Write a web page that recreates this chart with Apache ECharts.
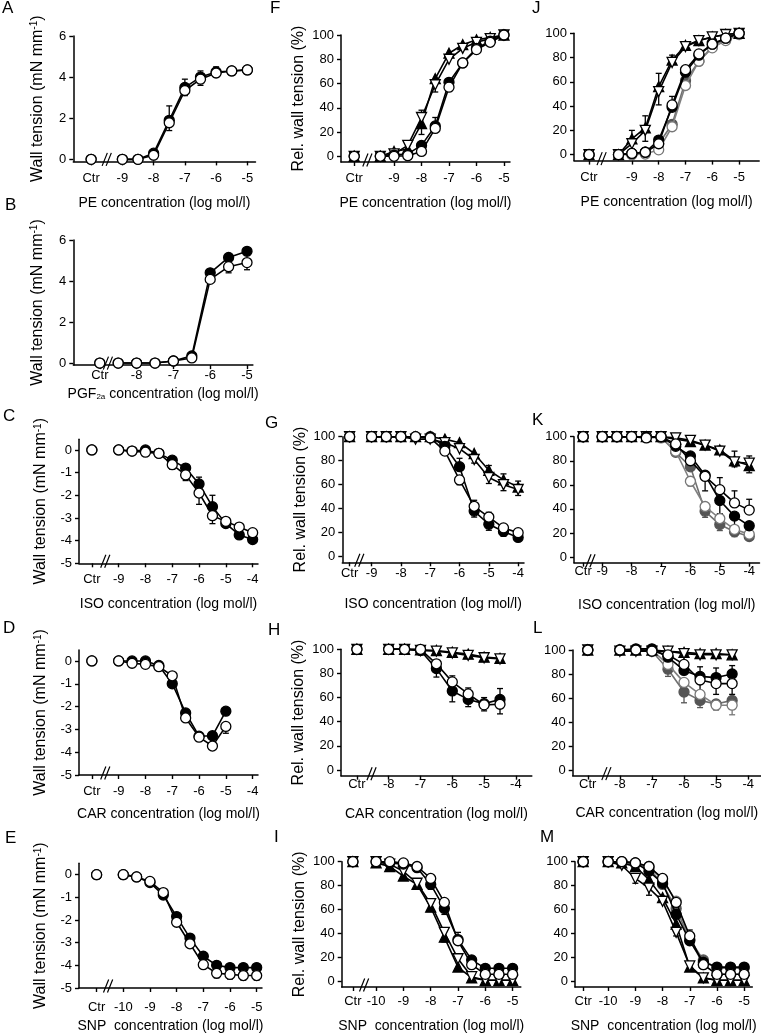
<!DOCTYPE html>
<html><head><meta charset="utf-8">
<script src="https://cdn.jsdelivr.net/npm/echarts@6/dist/echarts.min.js"></script>
<style>html,body{margin:0;padding:0;background:#fff}#c{width:761px;height:1034px}</style>
</head><body><div id="c"></div>
<script>
// ================= DATA =================
// Panel A (PE, wall tension mN/mm)
const A_x = [-9,-8.5,-8,-7.5,-7,-6.5,-6,-5.5,-5];
const A_filled = [0,0,0.3,1.9,3.5,4.0,4.25,4.3,4.35];
const A_open   = [0,0,0.2,1.78,3.35,3.9,4.2,4.3,4.35];
const A_filledErr = [0,0,0,0.7,0.4,0.3,0.25,0.2,0.2];
const A_openErr   = [0,0,0,-0.38,-0.25,-0.3,-0.2,-0.2,-0.2];
const A_ctr = [0,0];
const A_xTicks = [-9,-8,-7,-6,-5];
// Panel B (PGF2a)
const B_x = [-8.5,-8,-7.5,-7,-6.5,-6,-5.5,-5];
const B_filled = [0,0,0,0.1,0.35,4.4,5.15,5.45];
const B_open   = [0,0,0,0.1,0.25,4.08,4.7,4.9];
const B_filledErr = [0,0,0,0,0,0.1,0.1,0.1];
const B_openErr   = [0,0,0,0,0,-0.1,-0.3,-0.35];
const B_ctr = [0,0];
const B_xTicks = [-8,-7,-6,-5];
// Panel C (ISO)
const C_x = [-9,-8.5,-8,-7.5,-7,-6.5,-6,-5.5,-5,-4.5,-4];
const C_filled = [0,-0.05,0,-0.15,-0.45,-0.8,-1.5,-2.5,-3.25,-3.75,-3.95];
const C_open   = [0,-0.05,-0.1,-0.15,-0.65,-1.1,-1.9,-2.9,-3.15,-3.4,-3.65];
const C_filledErr = [0,0,0,0,0.1,0.1,0.3,0.5,0,0,0];
const C_openErr   = [0,0,0,0,-0.2,-0.25,-0.5,-0.35,-0.2,0,0];
const C_ctr = [0,0];
const C_xTicks = [-9,-8,-7,-6,-5,-4];
// Panel D (CAR)
const D_x = [-9,-8.5,-8,-7.5,-7,-6.5,-6,-5.5,-5];
const D_filled = [0,0,0,-0.2,-1.0,-2.28,-3.3,-3.28,-2.2];
const D_open   = [0,-0.1,-0.15,-0.25,-0.65,-2.5,-3.34,-3.73,-2.87];
const D_filledErr = [0,0,0,0,0,0,0,0,0];
const D_openErr   = [0,0,0,0,0,0,0,0,-0.3];
const D_ctr = [0,0];
const D_xTicks = [-9,-8,-7,-6,-5,-4];
// Panel E (SNP)
const E_x = [-10,-9.5,-9,-8.5,-8,-7.5,-7,-6.5,-6,-5.5,-5];
const E_filled = [0,-0.1,-0.35,-0.9,-1.85,-2.8,-3.6,-4.0,-4.1,-4.1,-4.1];
const E_open   = [0,-0.1,-0.3,-0.79,-2.1,-3.05,-3.97,-4.35,-4.4,-4.45,-4.45];
const E_filledErr = [0,0,0,0,0,0,0,0,0,0,0];
const E_openErr   = [0,0,0,0,0,0,-0.15,-0.2,-0.2,-0.2,-0.2];
const E_ctr = [0,0];
const E_xTicks = [-10,-9,-8,-7,-6,-5];
// Panel F (PE, relative)
const F_x = [-9.5,-9,-8.5,-8,-7.5,-7,-6.5,-6,-5.5,-5];
const F_triF  = [0,4,6,27,64,85,92,96,98,100];
const F_triO  = [0,2,9,32,59,80,89,94,97,100];
const F_circF = [0,1,2,9,25,61,77,89,95,100];
const F_circO = [0,0,0.5,4,23,57,77,88,94,100];
const F_triFErr  = [0,0,0,-9,0,0,0,0,0,0];
const F_triOErr  = [0,0,0,6,-6,0,0,0,0,0];
const F_circFErr = [0,0,0,0,7,0,0,0,0,0];
const F_circOErr = [0,0,0,0,0,0,0,0,0,0];
const F_ctr = [0,0,0,0];
const F_xTicks = [-9,-8,-7,-6,-5];
// Panel G (ISO, relative)
const G_x = [-9,-8.5,-8,-7.5,-7,-6.5,-6,-5.5,-5,-4.5,-4];
const G_triF  = [100,100,100,100,100,98,95,86,72,64,58];
const G_triO  = [100,100,100,98,98,95,90,81,66,60,56];
const G_circF = [100,100,100,100,100,92,75,38,27,21,16];
const G_circO = [100,100,100,100,99,88,64,42,33,24,20];
const G_triFErr  = [0,0,0,0,0,0,0,0,4,5,5];
const G_triOErr  = [0,0,0,0,0,0,0,-3,-5,-5,-5];
const G_circFErr = [0,0,0,0,0,0,7,-5,-5,-4,-3];
const G_circOErr = [0,0,0,0,0,-3,-4,5,4,3,0];
const G_ctr = [100,100,100,100];
const G_xTicks = [-9,-8,-7,-6,-5,-4];
// Panel H (CAR, relative)
const H_x = [-8,-7.5,-7,-6.5,-6,-5.5,-5,-4.5];
const H_triF  = [100,100,99.5,99,97.5,96,93.5,92.5];
const H_triO  = [100,100,99,98.5,97,95,93,92];
const H_circF = [100,100,99,84,65.5,58.5,55,58.5];
const H_circO = [100,100,100,88,73,63,54,54.5];
const H_triFErr  = [0,0,0,0,0,0,0,0];
const H_triOErr  = [0,0,0,0,0,0,0,0];
const H_circFErr = [0,0,0,-7,-9,-6,-6,9];
const H_circOErr = [0,0,0,3,5,5,6,-8];
const H_ctr = [100,100,100,100];
const H_xTicks = [-8,-7,-6,-5,-4];
// Panel I (SNP, relative)
const I_x = [-10,-9.5,-9,-8.5,-8,-7.5,-7,-6.5,-6,-5.5,-5];
const I_triF  = [99,96,88,81,62,37,12,3,1,1,1];
const I_triO  = [100,98,92,82,65,41,19,4,1,1,1];
const I_circF = [100,99,98,95,81,61,35,18,11,11,11];
const I_circO = [100,100,99,96,86,66,34,14,6,6,6];
const I_triFErr  = [0,0,0,0,0,-4,0,0,0,0,0];
const I_triOErr  = [0,0,0,0,0,0,0,0,0,0,0];
const I_circFErr = [0,0,0,0,-4,-5,0,3,0,0,3];
const I_circOErr = [0,0,0,0,0,0,7,0,0,0,0];
const I_ctr = [100,100,100,100];
const I_xTicks = [-10,-9,-8,-7,-6,-5];
// Panel J (PE, relative, with gray reference curves)
const J_x = [-9.5,-9,-8.5,-8,-7.5,-7,-6.5,-6,-5.5,-5];
const J_grayF = [0,1,2,9,25,61,77,89,95,100];
const J_grayO = [0,0,0.5,4,23,57,77,88,94,99];
const J_triF  = [0,13,22,56,78,90,94,97,99,100];
const J_triO  = [0,9,20,52,76,89,94,97,99,100];
const J_circF = [0,1,2,12,39,68,82,91,96,100];
const J_circO = [0,1,2,9,41,70,83,91,96,100];
const J_grayFErr = [0,0,0,0,0,0,0,0,0,0];
const J_grayOErr = [0,0,0,0,0,0,0,0,0,0];
const J_triFErr  = [0,7,10,11,4,0,0,0,0,0];
const J_triOErr  = [0,0,-9,-11,0,0,0,0,0,0];
const J_circFErr = [0,0,0,0,0,0,0,0,0,0];
const J_circOErr = [0,0,0,0,7,0,0,0,0,0];
const J_ctr = [0,0,0,0,0,0];
const J_xTicks = [-9,-8,-7,-6,-5];
// Panel K (ISO, relative, with gray reference curves)
const K_x = [-9,-8.5,-8,-7.5,-7,-6.5,-6,-5.5,-5,-4.5,-4];
const K_grayF = [100,100,100,100,100,87,75,38,27,21,17];
const K_grayO = [100,100,100,100,99,88,63,42,32,23,19];
const K_triF  = [100,100,100,100,100,98,96,93,89,80,76];
const K_triO  = [100,100,100,100,100,99,97,93,88,79,78];
const K_circF = [100,100,100,100,100,92,84,68,47,34,26];
const K_circO = [100,100,100,99,100,94,80,67,56,45,39];
const K_grayFErr = [0,0,0,0,0,0,0,-5,-5,-4,-3];
const K_grayOErr = [0,0,0,0,0,0,-4,0,0,0,0];
const K_triFErr  = [0,0,0,0,0,0,0,0,3,8,-6];
const K_triOErr  = [0,0,0,0,0,0,0,0,0,-4,6];
const K_circFErr = [0,0,0,0,0,0,0,-13,-11,-9,0];
const K_circOErr = [0,0,0,0,0,0,0,0,10,10,9];
const K_ctr = [100,100,100,100,100,100];
const K_xTicks = [-9,-8,-7,-6,-5,-4];
// Panel L (CAR, relative, with gray reference curves)
const L_x = [-8,-7.5,-7,-6.5,-6,-5.5,-5,-4.5];
const L_grayF = [100,100,99,84,65,58,55,58];
const L_grayO = [100,100,100,88,73,63,54,54];
const L_triF  = [100,100,100,99,98,97,97,96];
const L_triO  = [99,99,99,99,97,96,96,96];
const L_circF = [100,101,101,94,83,78,77,80];
const L_circO = [100,100,99,96,88,75,72,72];
const L_grayFErr = [0,0,0,-6,-9,-6,-5,0];
const L_grayOErr = [0,0,0,0,0,0,0,-8];
const L_triFErr  = [0,0,0,0,0,0,0,0];
const L_triOErr  = [0,0,0,0,0,0,0,0];
const L_circFErr = [0,0,0,0,0,8,8,7];
const L_circOErr = [0,0,0,0,0,-9,-9,-9];
const L_ctr = [100,100,100,100,100,100];
const L_xTicks = [-8,-7,-6,-5,-4];
// Panel M (SNP, relative, with gray reference curves)
const M_x = [-10,-9.5,-9,-8.5,-8,-7.5,-7,-6.5,-6,-5.5,-5];
const M_grayF = [100,99,98,95,81,61,35,18,11,11,11];
const M_grayO = [100,100,99,96,85,67,35,14,6,6,6];
const M_triF  = [100,99,96,85,70,48,12,3,1,1,1];
const M_triO  = [100,97,86,78,67,41,13,3,1,1,1];
const M_circF = [100,100,99,92,82,56,34,16,12,12,12];
const M_circO = [100,100,99,96,86,66,38,14,6,6,6];
const M_grayFErr = [0,0,0,0,0,0,0,0,0,0,0];
const M_grayOErr = [0,0,0,0,0,0,0,0,0,0,0];
const M_triFErr  = [0,0,0,0,0,0,0,0,0,0,0];
const M_triOErr  = [0,0,-4,-6,0,-3,0,0,0,0,0];
const M_circFErr = [0,0,0,0,0,0,0,0,0,0,0];
const M_circOErr = [0,0,0,0,0,0,5,0,0,0,0];
const M_ctr = [100,100,100,100,100,100];
const M_xTicks = [-10,-9,-8,-7,-6,-5];

const yTicksAbs = [0,2,4,6];
const yTicksNeg = [-5,-4,-3,-2,-1,0];
const yTicksRel = [0,20,40,60,80,100];

// ================= STYLE / LAYOUT =================
const FONT = '"Liberation Sans", Arial, Helvetica, sans-serif';
const SYM = 10;
const STY = {
  circF: {sym:'circle', size:SYM, rot:0, fill:'#000', stroke:'#000', line:'#000'},
  circO: {sym:'circle', size:SYM, rot:0, fill:'#fff', stroke:'#000', line:'#000'},
  triF:  {sym:'triangle', size:SYM, rot:0, fill:'#000', stroke:'#000', line:'#000'},
  triO:  {sym:'triangle', size:SYM, rot:180, fill:'#fff', stroke:'#000', line:'#000'},
  grayF: {sym:'circle', size:SYM, rot:0, fill:'#555', stroke:'#555', line:'#707070'},
  grayO: {sym:'circle', size:SYM, rot:0, fill:'#fff', stroke:'#777', line:'#808080'}
};
const WALL = 'Wall tension (mN mm{sup|-1})';
const REL = 'Rel. wall tension (%)';

function two(x, a, ea, ca, b, eb, cb) {
  return [{x:x, y:a, e:ea, c:ca, s:'circF'}, {x:x, y:b, e:eb, c:cb, s:'circO'}];
}
function four(x, P, ctr) {
  return [
    {x:x, y:P.triF, e:P.triFErr, c:ctr[0], s:'triF'},
    {x:x, y:P.triO, e:P.triOErr, c:ctr[1], s:'triO'},
    {x:x, y:P.circF, e:P.circFErr, c:ctr[2], s:'circF'},
    {x:x, y:P.circO, e:P.circOErr, c:ctr[3], s:'circO'}
  ];
}
function six(x, P, ctr) {
  return [
    {x:x, y:P.grayF, e:P.grayFErr, c:ctr[4], s:'grayF'},
    {x:x, y:P.grayO, e:P.grayOErr, c:ctr[5], s:'grayO'}
  ].concat(four(x, P, ctr));
}

const panels = [
  {L:'A', lp:[2,0], box:[73.3,36,182.2,125.4], xr:[-10.57,-4.74], yr:[-0.1,6], ctrX:-10, brk:-9.5,
   xt:A_xTicks, yt:yTicksAbs, xn:'PE concentration (log mol/l)', xng:35, lm:11, yn:WALL, yng:28,
   ser: two(A_x, A_filled, A_filledErr, A_ctr[0], A_open, A_openErr, A_ctr[1])},
  {L:'B', lp:[5,197], box:[73.3,240,179.6,125.1], xr:[-9.72,-4.84], yr:[-0.1,6], ctrX:-9, brk:-8.78,
   xt:B_xTicks, yt:yTicksAbs, xn:'PGF{sub|2a} concentration (log mol/l)', xng:22, lm:4, yn:WALL, yng:28,
   ser: two(B_x, B_filled, B_filledErr, B_ctr[0], B_open, B_openErr, B_ctr[1])},
  {L:'C', lp:[3,408], box:[79,439.3,179,124], xr:[-10.48,-3.8], yr:[-5,0.47], ctrX:-10, brk:-9.5,
   xt:C_xTicks, yt:yTicksNeg, xn:'ISO concentration (log mol/l)', xng:34, lm:10, yn:WALL, yng:30,
   ser: two(C_x, C_filled, C_filledErr, C_ctr[0], C_open, C_openErr, C_ctr[1])},
  {L:'D', lp:[3,620], box:[79,650,179,125], xr:[-10.48,-3.8], yr:[-5,0.48], ctrX:-10, brk:-9.5,
   xt:D_xTicks, yt:yTicksNeg, xn:'CAR concentration (log mol/l)', xng:32, lm:10, yn:WALL, yng:30,
   ser: two(D_x, D_filled, D_filledErr, D_ctr[0], D_open, D_openErr, D_ctr[1])},
  {L:'E', lp:[5,830], box:[79,863.3,183,125.4], xr:[-11.66,-4.8], yr:[-5,0.5], ctrX:-11, brk:-10.57,
   xt:E_xTicks, yt:yTicksNeg, xn:'SNP  concentration (log mol/l)', xng:31, lm:13, yn:WALL, yng:30,
   ser: two(E_x, E_filled, E_filledErr, E_ctr[0], E_open, E_openErr, E_ctr[1])},
  {L:'F', lp:[270,0], box:[341,35,169,127], xr:[-10.93,-4.78], yr:[-4.7,100], ctrX:-10.45, brk:-9.97,
   xt:F_xTicks, yt:yTicksRel, xn:'PE concentration (log mol/l)', xng:34, lm:10, yn:REL, yng:34,
   ser: four(F_x, {triF:F_triF,triFErr:F_triFErr,triO:F_triO,triOErr:F_triOErr,circF:F_circF,circFErr:F_circFErr,circO:F_circO,circOErr:F_circOErr}, F_ctr)},
  {L:'G', lp:[265,415], box:[342.3,436.7,181.7,125.6], xr:[-10,-3.8], yr:[-4.7,100], ctrX:-9.75, brk:-9.42,
   xt:G_xTicks, yt:yTicksRel, xn:'ISO concentration (log mol/l)', xng:35, lm:5, yn:REL, yng:34,
   ser: four(G_x, {triF:G_triF,triFErr:G_triFErr,triO:G_triO,triOErr:G_triOErr,circF:G_circF,circFErr:G_circFErr,circO:G_circO,circOErr:G_circOErr}, G_ctr)},
  {L:'H', lp:[268,622], box:[341,649.3,190.8,126.4], xr:[-9.5,-3.5], yr:[-4.7,100], ctrX:-9, brk:-8.54,
   xt:H_xTicks, yt:yTicksRel, xn:'CAR concentration (log mol/l)', xng:31, lm:2, yn:REL, yng:34,
   ser: four(H_x, {triF:H_triF,triFErr:H_triFErr,triO:H_triO,triOErr:H_triOErr,circF:H_circF,circFErr:H_circFErr,circO:H_circO,circOErr:H_circOErr}, H_ctr)},
  {L:'I', lp:[274,829], box:[341.7,861.7,179.1,126.6], xr:[-11.26,-4.7], yr:[-4.6,100], ctrX:-10.85, brk:-10.44,
   xt:I_xTicks, yt:yTicksRel, xn:'SNP  concentration (log mol/l)', xng:32, lm:8, yn:REL, yng:34,
   ser: four(I_x, {triF:I_triF,triFErr:I_triFErr,triO:I_triO,triOErr:I_triOErr,circF:I_circF,circFErr:I_circFErr,circO:I_circO,circOErr:I_circOErr}, I_ctr)},
  {L:'J', lp:[532,0], box:[574,33.3,185.2,127.3], xr:[-11.16,-4.25], yr:[-4.9,100], ctrX:-10.6, brk:-10.13,
   xt:J_xTicks, yt:yTicksRel, xn:'PE concentration (log mol/l)', xng:35, lm:10, yn:'', yng:34,
   ser: six(J_x, {grayF:J_grayF,grayFErr:J_grayFErr,grayO:J_grayO,grayOErr:J_grayOErr,triF:J_triF,triFErr:J_triFErr,triO:J_triO,triOErr:J_triOErr,circF:J_circF,circFErr:J_circFErr,circO:J_circO,circOErr:J_circOErr}, J_ctr)},
  {L:'K', lp:[532,412], box:[574,436.7,185.5,126], xr:[-9.96,-3.65], yr:[-4.7,100], ctrX:-9.65, brk:-9.4,
   xt:K_xTicks, yt:yTicksRel, xn:'ISO concentration (log mol/l)', xng:35, lm:2, yn:'', yng:34,
   ser: six(K_x, {grayF:K_grayF,grayFErr:K_grayFErr,grayO:K_grayO,grayOErr:K_grayOErr,triF:K_triF,triFErr:K_triFErr,triO:K_triO,triOErr:K_triOErr,circF:K_circF,circFErr:K_circFErr,circO:K_circO,circOErr:K_circOErr}, K_ctr)},
  {L:'L', lp:[533,620], box:[572.7,650,188.4,125.6], xr:[-9.47,-3.6], yr:[-4.7,100], ctrX:-9, brk:-8.42,
   xt:L_xTicks, yt:yTicksRel, xn:'CAR concentration (log mol/l)', xng:31, lm:2, yn:'', yng:34,
   ser: six(L_x, {grayF:L_grayF,grayFErr:L_grayFErr,grayO:L_grayO,grayOErr:L_grayOErr,triF:L_triF,triFErr:L_triFErr,triO:L_triO,triOErr:L_triOErr,circF:L_circF,circFErr:L_circFErr,circO:L_circO,circOErr:L_circOErr}, L_ctr)},
  {L:'M', lp:[540,829], box:[575,861.7,177.3,126.6], xr:[-11.22,-4.7], yr:[-4.6,100], ctrX:-10.92, brk:null,
   xt:M_xTicks, yt:yTicksRel, xn:'SNP  concentration (log mol/l)', xng:32, lm:8, yn:'', yng:34,
   ser: six(M_x, {grayF:M_grayF,grayFErr:M_grayFErr,grayO:M_grayO,grayOErr:M_grayOErr,triF:M_triF,triFErr:M_triFErr,triO:M_triO,triOErr:M_triOErr,circF:M_circF,circFErr:M_circFErr,circO:M_circO,circOErr:M_circOErr}, M_ctr)}
];

function errRenderer(color) {
  return function (params, api) {
    const x = api.value(0), y = api.value(1), e = api.value(2);
    const p0 = api.coord([x, y]);
    const p1 = api.coord([x, y + e]);
    const cap = 3;
    const st = {stroke: color, lineWidth: 1.3};
    return {type: 'group', children: [
      {type: 'line', shape: {x1: p0[0], y1: p0[1], x2: p1[0], y2: p1[1]}, style: st},
      {type: 'line', shape: {x1: p1[0] - cap, y1: p1[1], x2: p1[0] + cap, y2: p1[1]}, style: st}
    ]};
  };
}
function breakRenderer(params, api) {
  const p = api.coord([api.value(0), api.value(1)]);
  const w = 2.6, h = 6.5, g = 4;
  const st = {stroke: '#000', lineWidth: 1.2};
  return {type: 'group', children: [
    {type: 'line', shape: {x1: p[0] - g / 2 - w, y1: p[1] + h - 2, x2: p[0] - g / 2 + w, y2: p[1] - h - 2}, style: st},
    {type: 'line', shape: {x1: p[0] + g / 2 - w, y1: p[1] + h - 2, x2: p[0] + g / 2 + w, y2: p[1] - h - 2}, style: st}
  ]};
}

const option = {
  animation: false,
  backgroundColor: '#fff',
  textStyle: {fontFamily: FONT},
  title: [], grid: [], xAxis: [], yAxis: [], series: []
};

const axisCommon = {
  axisLine: {show: true, onZero: false, lineStyle: {color: '#000', width: 1.5}},
  axisTick: {show: true, length: 4, lineStyle: {color: '#000', width: 1.4}},
  splitLine: {show: false}
};

panels.forEach(function (p, i) {
  option.title.push({text: p.L, left: p.lp[0], top: p.lp[1], padding: 0,
    textStyle: {fontFamily: FONT, fontSize: 17, fontWeight: 'normal', color: '#000'}});
  option.grid.push({left: p.box[0], top: p.box[1], width: p.box[2], height: p.box[3], containLabel: false});
  const xVals = [p.ctrX].concat(p.xt);
  option.xAxis.push(Object.assign({}, axisCommon, {
    gridIndex: i, type: 'value', min: p.xr[0], max: p.xr[1],
    axisTick: Object.assign({}, axisCommon.axisTick, {customValues: xVals}),
    axisLabel: {customValues: xVals, margin: p.lm, color: '#000', fontFamily: FONT, fontSize: 13,
      formatter: (function (cx) { return function (v) { return Math.abs(v - cx) < 1e-6 ? 'Ctr' : String(v); }; })(p.ctrX)},
    name: p.xn, nameLocation: 'middle', nameGap: p.xng,
    nameTextStyle: {color: '#000', fontFamily: FONT, fontSize: 14,
      rich: {sub: {fontSize: 8, verticalAlign: 'bottom', fontFamily: FONT, color: '#000'}}}
  }));
  option.yAxis.push(Object.assign({}, axisCommon, {
    gridIndex: i, type: 'value', min: p.yr[0], max: p.yr[1],
    axisTick: Object.assign({}, axisCommon.axisTick, {customValues: p.yt}),
    axisLabel: {customValues: p.yt, margin: 7, color: '#000', fontFamily: FONT, fontSize: 13},
    name: p.yn, nameLocation: 'middle', nameGap: p.yng,
    nameTextStyle: {color: '#000', fontFamily: FONT, fontSize: 16,
      rich: {sup: {fontSize: 10, verticalAlign: 'top', fontFamily: FONT, color: '#000'}}}
  }));
  // error bars
  p.ser.forEach(function (s) {
    const st = STY[s.s];
    const d = [];
    s.x.forEach(function (xv, k) { if (s.e[k]) d.push([xv, s.y[k], s.e[k]]); });
    if (d.length) option.series.push({type: 'custom', xAxisIndex: i, yAxisIndex: i, z: 2, silent: true,
      renderItem: errRenderer(st.stroke), data: d, encode: {x: 0, y: 1}});
  });
  // curves
  p.ser.forEach(function (s, k) {
    const st = STY[s.s];
    const common = {xAxisIndex: i, yAxisIndex: i, silent: true, symbol: st.sym, symbolSize: st.size,
      symbolRotate: st.rot, z: 3 + k,
      itemStyle: {color: st.fill, borderColor: st.stroke, borderWidth: 1.3, opacity: 1}};
    option.series.push(Object.assign({type: 'line', data: s.x.map(function (xv, j) { return [xv, s.y[j]]; }),
      showAllSymbol: true, clip: false, lineStyle: {color: st.line, width: 1.6}}, common));
    option.series.push(Object.assign({type: 'scatter', data: [[p.ctrX, s.c]], clip: false}, common));
  });
  if (p.brk !== null) {
    option.series.push({type: 'custom', xAxisIndex: i, yAxisIndex: i, z: 10, silent: true,
      renderItem: breakRenderer, data: [[p.brk, p.yr[0]]], encode: {x: 0, y: 1}, clip: false});
  }
});

const chart = echarts.init(document.getElementById('c'), null, {renderer: 'canvas'});
chart.setOption(option);
</script>
</body></html>
